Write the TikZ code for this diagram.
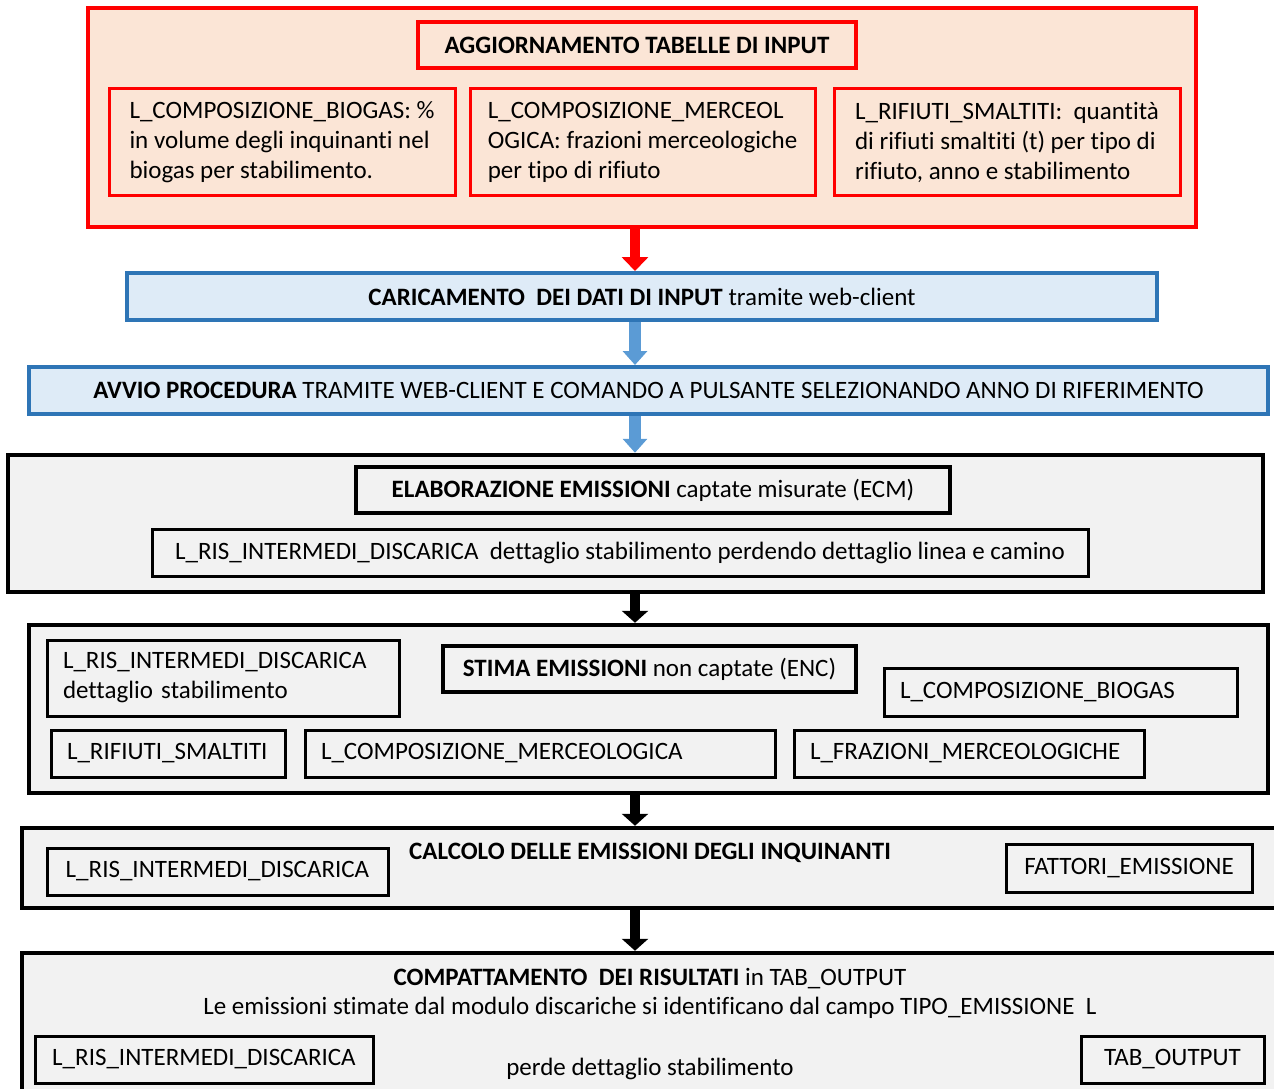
\documentclass[tikz,border=0pt]{standalone}
\usepackage{fontspec}
\setmainfont{Carlito}[Ligatures=NoCommon]
\usetikzlibrary{arrows.meta}

\definecolor{peach}{HTML}{FBE5D6}
\definecolor{lightblue}{HTML}{DEEBF7}
\definecolor{darkblue}{HTML}{2E75B6}
\definecolor{midblue}{HTML}{5B9BD5}
\definecolor{lightgray}{HTML}{F2F2F2}

\tikzset{
  redframe/.style={draw=red, line width=2.25pt, fill=peach, inner sep=0pt},
  redtitle/.style={draw=red, line width=2pt, fill=peach},
  redtab/.style={draw=red, line width=1.5pt, fill=peach, align=left, inner xsep=8pt, inner ysep=3pt},
  bluebar/.style={draw=darkblue, line width=2pt, fill=lightblue},
  blockframe/.style={draw, line width=2.25pt, fill=lightgray, inner sep=0pt},
  titlebox/.style={draw, line width=2pt, fill=lightgray},
  tabbox/.style={draw, line width=1.5pt, fill=lightgray, align=left, inner xsep=8pt, inner ysep=3pt},
  redarrow/.style={draw=red, line width=5pt, -{Triangle[length=7pt,width=13pt]}},
  bluearrow/.style={draw=midblue, line width=6pt, -{Triangle[length=7pt,width=12pt]}},
  blackarrow/.style={draw=black, line width=5pt, -{Triangle[length=6pt,width=13pt]}},
}

\begin{document}
\begin{tikzpicture}[x=1pt, y=-1pt, font=\fontsize{12.5}{15}\selectfont]
    \useasboundingbox (0,0) rectangle (637,544);
    \clip (0,0) rectangle (637,544);
    \coordinate (axis) at (317.5,0);

    % aggiornamento tabelle
    \node[redframe, minimum width=554pt, minimum height=109.5pt] (input) at (321,58.75) {};
    \node[redtitle, minimum width=219pt, minimum height=23pt] (aggiorna) at (318.5,22.5) {\textbf{AGGIORNAMENTO TABELLE DI INPUT}};
    \node[redtab, minimum width=173pt, minimum height=53.5pt] (inbiogas) at (141,71)
      {L\_COMPOSIZIONE\_BIOGAS: \%\\ in volume degli inquinanti nel\\ biogas per stabilimento.};
    \node[redtab, minimum width=172.5pt, minimum height=53.5pt] (inmerc) at (321.25,71)
      {L\_COMPOSIZIONE\_MERCEOL\\ OGICA: frazioni merceologiche\\ per tipo di rifiuto};
    \node[redtab, minimum width=173pt, minimum height=53.5pt] (inrifiuti) at (503.5,71)
      {L\_RIFIUTI\_SMALTITI:\ \ quantità\\ di rifiuti smaltiti (t) per tipo di\\ rifiuto, anno e stabilimento};

    % caricamento e avvio
    \node[bluebar, minimum width=515pt, minimum height=23.5pt] (carica) at (321,148.25)
      {\textbf{CARICAMENTO\ \ DEI DATI DI INPUT} tramite web-client};
    \node[bluebar, minimum width=619.5pt, minimum height=23.5pt] (avvio) at (324.25,195.25)
      {\textbf{AVVIO PROCEDURA} TRAMITE WEB-CLIENT E COMANDO A PULSANTE SELEZIONANDO ANNO DI RIFERIMENTO};

    % ECM
    \node[blockframe, minimum width=627.5pt, minimum height=68.5pt] (elab) at (317.75,261.75) {};
    \node[titlebox, minimum width=297pt, minimum height=23pt] (ecm) at (326.5,245)
      {\textbf{ELABORAZIONE EMISSIONI} captate misurate (ECM)};
    \node[tabbox, align=center, minimum width=468pt, minimum height=23.5pt] (ecmris) at (310,276.25)
      {L\_RIS\_INTERMEDI\_DISCARICA\ \ dettaglio stabilimento perdendo dettaglio linea e camino};

    % ENC
    \node[blockframe, minimum width=619.5pt, minimum height=84pt] (stima) at (324.25,354.5) {};
    \node[tabbox, text width=160pt, minimum height=38pt] (encris) at (111.5,339)
      {L\_RIS\_INTERMEDI\_DISCARICA\\ dettaglio stabilimento};
    \node[titlebox, minimum width=206.5pt, minimum height=23pt] (enc) at (324.75,334.5)
      {\textbf{STIMA EMISSIONI} non captate (ENC)};
    \node[tabbox, text width=160.5pt, minimum height=24pt] (encbiogas) at (530.25,346)
      {L\_COMPOSIZIONE\_BIOGAS};
    \node[tabbox, text width=101pt, minimum height=23.5pt] (encrifiuti) at (84,376.75)
      {L\_RIFIUTI\_SMALTITI};
    \node[tabbox, text width=219pt, minimum height=23.5pt] (encmerc) at (270,376.75)
      {L\_COMPOSIZIONE\_MERCEOLOGICA};
    \node[tabbox, text width=159pt, minimum height=23.5pt] (encfraz) at (484.5,376.75)
      {L\_FRAZIONI\_MERCEOLOGICHE};

    % calcolo
    \node[blockframe, minimum width=634pt, minimum height=40pt] (calc) at (328,434) {};
    \node (calct) at (325,426.5) {\textbf{CALCOLO DELLE EMISSIONI DEGLI INQUINANTI}};
    \node[tabbox, align=center, minimum width=170.5pt, minimum height=23.5pt] (calcris) at (108.75,435.75)
      {L\_RIS\_INTERMEDI\_DISCARICA};
    \node[tabbox, align=center, minimum width=123pt, minimum height=24pt] (fattori) at (564.5,434)
      {FATTORI\_EMISSIONE};

    % compattamento
    \node[blockframe, minimum width=634pt, minimum height=78.5pt] (comp) at (328,515.75) {};
    \node (compt) at (325,489.5) {\textbf{COMPATTAMENTO\ \ DEI RISULTATI} in TAB\_OUTPUT};
    \node (compl) at (325,504) {Le emissioni stimate dal modulo discariche si identificano dal campo TIPO\_EMISSIONE\ \ L};
    \node[tabbox, align=center, minimum width=169pt, minimum height=23.5pt] (compris) at (102,529.75)
      {L\_RIS\_INTERMEDI\_DISCARICA};
    \node (perde) at (325,534.5) {perde dettaglio stabilimento};
    \node[tabbox, align=center, minimum width=91.5pt, minimum height=23.5pt] (tabout) at (586.25,529.75)
      {TAB\_OUTPUT};

    \draw[redarrow] (input.south -| axis) -- (carica.north -| axis);
    \draw[bluearrow] (carica.south -| axis) -- (avvio.north -| axis);
    \draw[bluearrow] (avvio.south -| axis) -- (elab.north -| axis);
    \draw[blackarrow] (elab.south -| axis) -- (stima.north -| axis);
    \draw[blackarrow] (stima.south -| axis) -- (calc.north -| axis);
    \draw[blackarrow] (calc.south -| axis) -- (comp.north -| axis);
\end{tikzpicture}
\end{document}
